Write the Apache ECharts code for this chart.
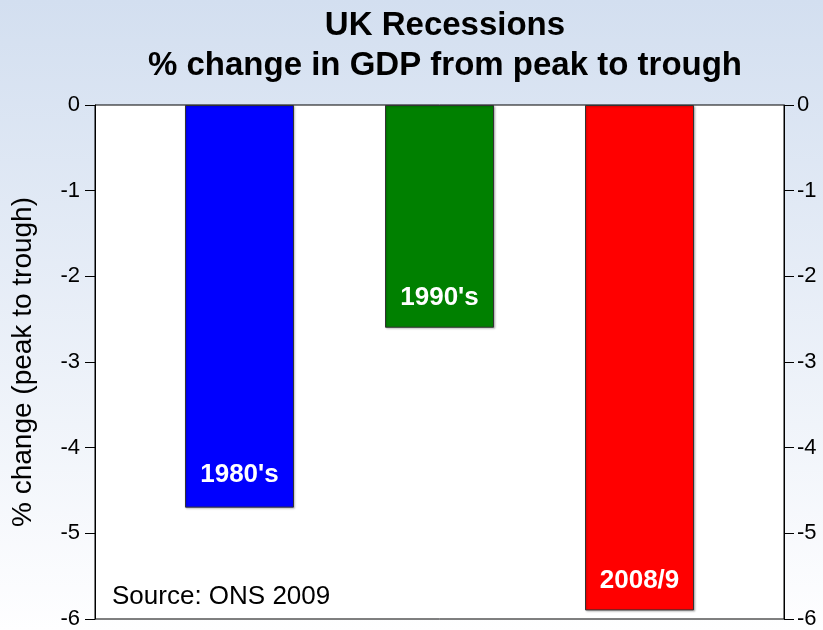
<!DOCTYPE html>
<html>
<head>
<meta charset="utf-8">
<script src="https://cdn.jsdelivr.net/npm/echarts@6/dist/echarts.min.js"></script>
<style>
html,body{margin:0;padding:0;}
#chart{width:823px;height:630px;}
</style>
</head>
<body>
<div id="chart"></div>
<script>
var titleLines = ['UK Recessions', '% change in GDP from peak to trough'];
var yAxisName = '% change (peak to trough)';
var sourceText = 'Source: ONS 2009';
var categories = ["1980's", "1990's", "2008/9"];
var values = [-4.7, -2.6, -5.9];
var colors = ['#0000ff', '#008000', '#ff0000'];
var labelDistances = [20, 17, 17];
var yMin = -6, yMax = 0, yInterval = 1;

var chart = echarts.init(document.getElementById('chart'));
var FONT = '"Liberation Sans", Arial, sans-serif';

var series = categories.map(function (name, i) {
  return {
    name: name,
    type: 'bar',
    data: [values[i]],
    barWidth: 109,
    barGap: '83.5%',
    itemStyle: {
      color: colors[i],
      borderColor: '#333',
      borderWidth: 1,
      shadowColor: 'rgba(0,0,0,0.25)',
      shadowBlur: 2,
      shadowOffsetX: 1,
      shadowOffsetY: 1
    },
    label: {
      show: true,
      position: 'insideBottom',
      distance: labelDistances[i],
      formatter: name,
      color: '#fff',
      fontFamily: FONT,
      fontWeight: 'bold',
      fontSize: 26
    },
    silent: true
  };
});

var axisCommon = {
  type: 'value',
  min: yMin,
  max: yMax,
  interval: yInterval,
  splitLine: { show: false },
  axisLine: { show: true, lineStyle: { color: '#000', width: 1 } },
  axisTick: { show: true, inside: false, length: 10, lineStyle: { color: '#000' } },
  axisLabel: { color: '#000', fontFamily: FONT, fontSize: 22 }
};

var option = {
  backgroundColor: new echarts.graphic.LinearGradient(0, 0, 0, 1, [
    { offset: 0, color: '#d3dff0' },
    { offset: 1, color: '#fefeff' }
  ]),
  animation: false,
  title: {
    text: titleLines.join('\n'),
    left: 440,
    textAlign: 'center',
    top: 1,
    textStyle: {
      fontFamily: FONT,
      fontWeight: 'bold',
      fontSize: 33,
      lineHeight: 40,
      color: '#000'
    }
  },
  grid: {
    left: 95, right: 39, top: 105, bottom: 10,
    show: true,
    backgroundColor: '#fff',
    borderColor: '#000',
    borderWidth: 1
  },
  xAxis: {
    type: 'category',
    data: [''],
    axisLine: { show: false },
    axisTick: { show: false },
    axisLabel: { show: false }
  },
  yAxis: [
    Object.assign({}, axisCommon, {
      position: 'left',
      axisLabel: Object.assign({}, axisCommon.axisLabel, { margin: 15 }),
      name: yAxisName,
      nameLocation: 'middle',
      nameRotate: 90,
      nameGap: 58,
      nameTextStyle: { color: '#000', fontFamily: FONT, fontSize: 28 }
    }),
    Object.assign({}, axisCommon, {
      position: 'right',
      axisLabel: Object.assign({}, axisCommon.axisLabel, { margin: 13 })
    })
  ],
  graphic: [{
    type: 'text',
    left: 112,
    top: 584,
    style: {
      text: sourceText,
      font: '26px ' + FONT,
      fill: '#000'
    }
  }],
  series: series
};
chart.setOption(option);
</script>
</body>
</html>
